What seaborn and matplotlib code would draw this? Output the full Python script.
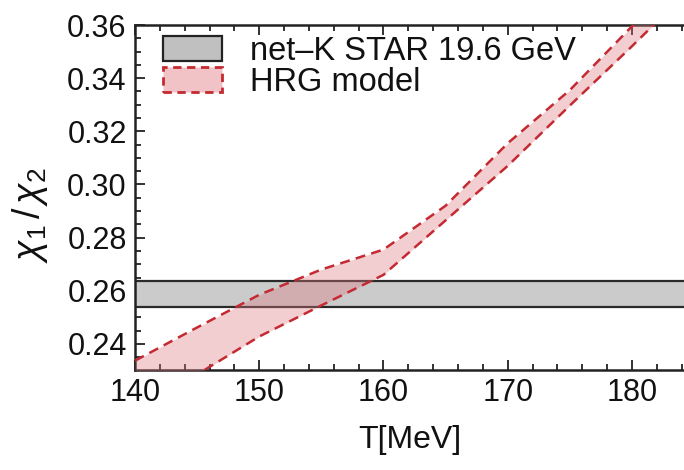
import numpy as np
import pandas as pd
import matplotlib
matplotlib.use("Agg")
import matplotlib.pyplot as plt
import seaborn as sns
from matplotlib.patches import Patch
from matplotlib.ticker import MultipleLocator

# Data
T_MeV = [140, 145, 150, 155, 160, 165, 170, 175, 180, 185]
hrg_upper = [0.2337, 0.2462, 0.2585, 0.2680, 0.2755, 0.2920, 0.3155, 0.3355, 0.3595, 0.3830]
hrg_lower = [0.2145, 0.2285, 0.2428, 0.2545, 0.2660, 0.2865, 0.3070, 0.3297, 0.3520, 0.3750]
star_low = 0.2540
star_high = 0.2635
labels = ["net\u2013K STAR 19.6 GeV", "HRG model"]

sns.set_theme(style="ticks")
plt.rcParams['font.family'] = ['Liberation Sans', 'DejaVu Sans']
plt.rcParams['mathtext.fontset'] = 'custom'
plt.rcParams['mathtext.it'] = 'Liberation Sans:italic'
plt.rcParams['mathtext.rm'] = 'Liberation Sans'
plt.rcParams['text.color'] = '#111111'
plt.rcParams['axes.labelcolor'] = '#111111'
plt.rcParams['xtick.labelcolor'] = '#111111'
plt.rcParams['ytick.labelcolor'] = '#111111'

fig = plt.figure(figsize=(6.84, 4.70), dpi=100)
ax = fig.add_axes([135/684, 1-370/470, 1-135/684 + 0.002, (370-25)/470])

red = "#c42a32"
pink = "#e07882"

# STAR band
ax.axhspan(star_low, star_high, facecolor="#cbcbcb", edgecolor="none", zorder=1)
ax.axhline(star_low, color="#2a2a2a", lw=1.6, zorder=2)
ax.axhline(star_high, color="#2a2a2a", lw=1.6, zorder=2)

df = pd.DataFrame({"T": T_MeV, "upper": hrg_upper, "lower": hrg_lower})
ax.fill_between(df["T"], df["lower"], df["upper"], color=pink, alpha=0.36,
                linewidth=0, zorder=3)
sns.lineplot(data=df, x="T", y="upper", ax=ax, color=red, lw=1.8,
             linestyle=(0, (4, 2.5)), zorder=4)
sns.lineplot(data=df, x="T", y="lower", ax=ax, color=red, lw=1.8,
             linestyle=(0, (4, 2.5)), zorder=4)

ax.set_xlim(140, 184.3)
ax.set_ylim(0.2302, 0.36)

ax.xaxis.set_major_locator(MultipleLocator(10))
ax.xaxis.set_minor_locator(MultipleLocator(2))
ax.yaxis.set_major_locator(MultipleLocator(0.02))
ax.yaxis.set_minor_locator(MultipleLocator(0.005))
ax.yaxis.set_major_formatter(matplotlib.ticker.FormatStrFormatter('%.2f'))

ax.tick_params(which='both', direction='in', top=True, right=False,
               color="#222222", width=1.3)
ax.tick_params(which='major', length=7, labelsize=22, pad=6)
ax.tick_params(which='minor', length=4)
for s in ["left", "bottom", "top"]:
    ax.spines[s].set_linewidth(1.8)
    ax.spines[s].set_color("#222222")
ax.spines["right"].set_visible(False)

ax.set_xlabel("T[MeV]", fontsize=23, labelpad=12)
ax.set_ylabel(r"$\chi_1\,/\,\chi_2$", fontsize=27, labelpad=8)
ax.yaxis.set_label_coords(-0.155, 0.45)

handles = [
    Patch(facecolor="#c0c0c0", edgecolor="#222222", linewidth=1.6),
    Patch(facecolor=(0.88, 0.47, 0.51, 0.45), edgecolor=red, linewidth=2.0,
          linestyle=(0, (3, 2))),
]
ax.legend(handles, labels, loc="upper left", frameon=False, fontsize=23.5,
          handlelength=1.8, handleheight=0.8, handletextpad=0.85,
          labelspacing=0.0, borderaxespad=0.3, bbox_to_anchor=(0.01, 1.035))

fig.savefig("out.png", dpi=100)
